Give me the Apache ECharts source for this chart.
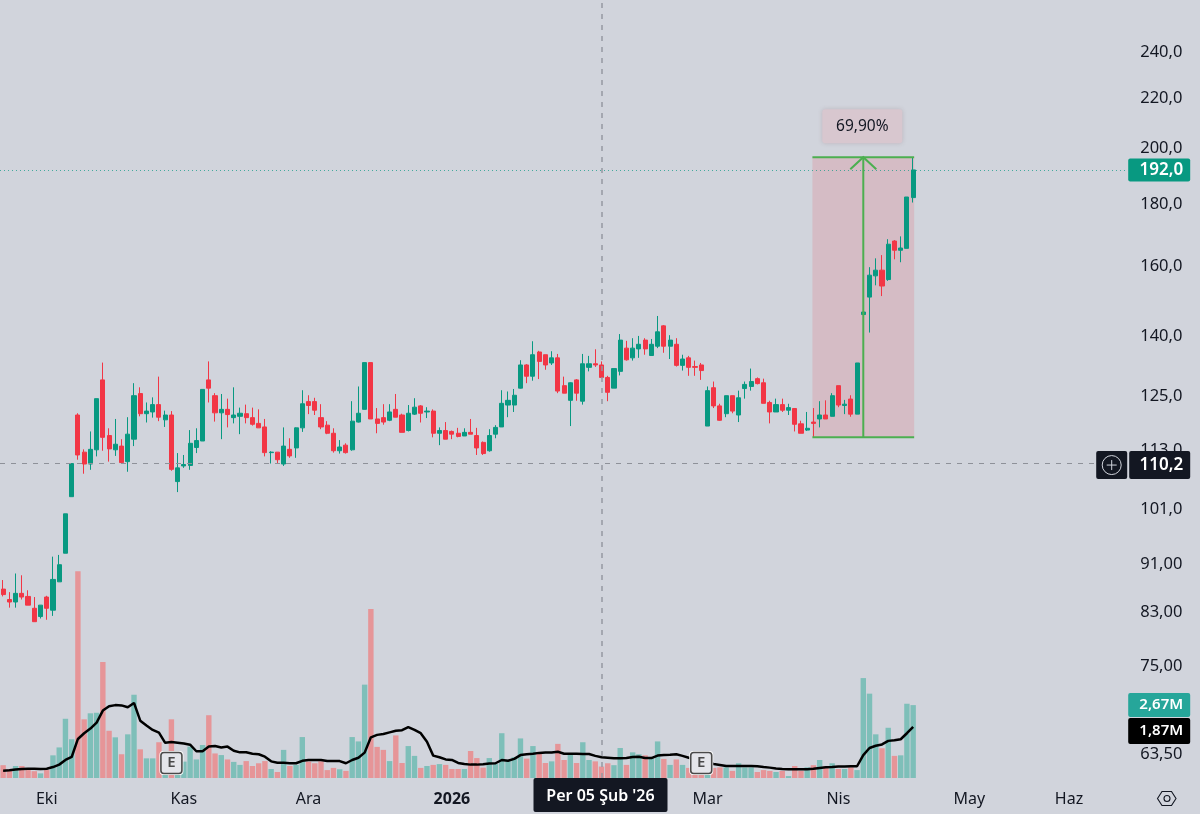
<!DOCTYPE html>
<html><head><meta charset="utf-8">
<style>html,body{margin:0;padding:0;background:#d1d4dc}#c{width:1200px;height:814px}</style>
<script src="https://cdn.jsdelivr.net/npm/echarts@6/dist/echarts.min.js"></script>
</head><body><div id="c"></div>
<script>
// [open, close, low, high]
const ohlc = [
[86.8,85.9,85.6,88.3],[85.1,84.7,83.8,86.3],[84.7,86.1,83.8,89.4],[86.1,85.5,85.1,89.1],[85.6,84.2,84.2,86.6],
[83.7,81.6,81.6,85.5],[82.4,84.2,82.1,84.2],[85.5,83.7,81.9,85.7],[83.4,88.4,82.5,92.3],[88,90.9,88,92.6],
[92.9,100.1,92.9,100.1],[103.4,110.1,103.4,110.1],[120.7,111.9,110.9,121.1],[112.5,110,108,113.1],[110,113.1,108.8,117],
[113,124.5,111.6,124.5],[129,115.7,112.8,133.3],[116.1,113.2,110.5,117.7],[113,114.2,111.7,119.8],[113.8,110.3,110.2,115.3],
[110.5,116.4,108.4,120.2],[115.3,125.2,113.8,128.2],[125.7,121,120.4,127.2],[121,121.6,119,123.6],[121.4,123.1,120.1,124.8],
[123.1,120.2,119.3,129.8],[119.6,120.7,118,121.7],[120.7,108.9,108.6,121.6],[106.4,109.2,104.3,112.3],[109.6,109.9,109.2,111.9],
[109.7,114.4,108.8,117.3],[113.5,115,112.3,117.7],[114.9,126.7,114.9,126.7],[129,127,123.6,133.6],[125.2,121.2,119.2,125.8],
[121.2,122,115.3,125.6],[122,120.8,117.9,124.5],[120.1,120.7,118.8,127.2],[120.4,121.1,116.4,122.4],[121,120.1,118.8,123.1],
[120.1,118.6,118.3,122.4],[118.8,117.8,117.8,122],[118,112.4,111.6,119.8],[112.4,112.5,110.1,112.7],[112.5,110.9,110.2,112.5],
[110,113.8,109.6,117.9],[113.1,111.7,111.3,115.5],[113.4,117.8,111.3,117.9],[117.8,123.3,116.9,126.5],[123.8,122.9,120.9,125.3],
[123.8,121.8,120.7,124.7],[120.1,118,117.5,123.2],[118.4,116.6,116.4,119.3],[116.6,112.8,112.4,117.7],[112.8,113.6,112.2,115.1],
[114,112.4,112.2,114.4],[113,119.3,112.8,123.9],[119.1,121.1,119,127.4],[122,133.3,122,133.3],[133.3,119.8,119.8,133.3],
[119.8,118.8,116.6,122.3],[120.1,119.1,118.5,123.2],[119.5,121.4,119.3,123.2],[122,120.2,120.2,125.6],[120.7,116.8,116.8,121],
[117.2,121.1,117,123],[120.9,122.5,120.7,124.6],[122.8,121.1,119,123],[121.4,121.6,120,122.5],[121.6,116.6,115.7,122],
[116.6,117.2,114,117.9],[117.2,115.3,115.3,119.1],[117,116.4,115.3,117.2],[116.6,115.9,115.7,117.8],[116,116.8,116,117.7],
[116.8,116.4,116.4,119.8],[116.1,113.4,111.9,117.8],[114.6,112.2,111.9,114.8],[112.8,116.1,112.6,117.5],[116.4,117.9,115.5,118.4],
[118,123.4,118,126.5],[123,124.1,120.2,126.2],[123,125.3,121.4,126.8],[127,132.7,126.9,133.9],[132.7,129.9,128.2,132.9],
[129.9,135.3,128.8,138.8],[136,133.6,129.2,136.3],[135.3,132.7,131.5,135.3],[133.2,134.5,132.7,136.2],[134.5,126.3,125.8,135.5],
[127.6,125.8,125.8,129.8],[124.1,128.3,118.2,128.4],[129,125.8,124,129.2],[123.9,133,123.1,135.5],[132.1,133,131.1,135],
[133,132.7,132.2,136.7],[132.7,129.6,129.4,133.6],[129.6,126,123.9,130],[127,131.8,127,131.8],[131.1,139.1,130.1,140.7],
[137,134,133.8,138.9],[134.5,137,133.8,139.6],[136.8,138,134.5,140.2],[139.1,136.8,135.3,139.6],[135.1,138,135.1,139.4],
[137.5,141.3,137,145.6],[142.9,137.5,135.8,143.1],[137.5,139.1,134.2,140.4],[138,132.6,132.3,139.6],[132.6,134.2,131.3,135.3],
[134.5,132.1,130,135],[132.3,132.1,130,133.8],[132.7,131.3,129,133.2],[118.2,126.4,118.2,127.4],[127.1,122.8,122.3,128.6],
[122.8,119.5,119.4,123.3],[121,125.2,120.2,125.2],[125.2,121.6,121.1,125.2],[120.7,124.7,119.1,126.4],[126.9,127.9,124.5,128.6],
[127.4,128.6,126.4,131.8],[129.3,128.1,127.9,129.6],[128.3,123.4,123.4,129.3],[123.6,121.4,118.8,124],[121.4,123.1,121.4,124.5],
[123.1,121.8,121.4,124.5],[121.8,122.4,120.7,123.3],[122.2,118.6,117,122.3],[118.7,116.6,116.6,119.4],[117.3,117.7,117.1,121.4],
[119.1,118.8,115.7,122.3],[119.8,120.7,117.9,123.9],[120.7,119.8,119.8,124.1],[120.4,125.2,120.4,125.8],[127.6,123,122.5,127.6],
[122.9,123.2,120.9,124.2],[124.4,120.9,120.3,125.3],[120.9,133.2,120.9,133.2],[146,146.7,139.4,148],[150.9,157.3,141.1,159.7],
[157.1,158.8,154.3,162.4],[158.8,154.1,151.2,163.4],[156,166.8,155.6,168.4],[167.8,164.9,162.1,168.1],[164.9,165.6,161.2,169.3],
[165.5,182.4,165.5,182.4],[182.2,192,180.5,196.7]
];
const volumes = [
.47,.32,.44,.44,.29,.25,.17,.29,.83,1.12,
2.17,1.42,7.57,2.15,2.37,2.39,4.25,1.73,1.49,.87,
1.60,3.05,1.05,.72,.72,1.31,.51,2.15,.92,.60,
1.15,.68,1.21,2.30,.90,.84,.68,.59,.48,.62,
.44,.54,.62,.33,.22,1.03,.44,.48,1.50,.60,
.54,.61,.29,.37,.32,.26,1.50,1.34,3.42,6.19,
1.14,1.03,.62,1.56,.55,1.17,.81,.37,.44,.48,
.51,.48,.33,.33,.33,.99,.73,.38,.73,.51,
1.64,.62,.76,1.45,.71,1.17,.95,.55,.61,1.25,
.66,.90,.55,1.31,.66,.61,.42,.54,.47,1.10,
.48,.94,.87,.83,.72,1.34,.70,.48,.68,.48,
.37,.22,.18,.37,.37,.39,.39,.26,.54,.39,
.39,.22,.29,.26,.22,.26,.07,.44,.26,.39,
.47,.66,.43,.54,.33,.33,.39,.29,3.66,3.09,
1.60,1.09,1.84,.81,.83,2.72,2.67
];
const volumeMA = [
.27,.28,.31,.33,.34,.34,.33,.34,.40,.49,
.66,.77,1.43,1.64,1.81,2.03,2.47,2.63,2.67,2.66,
2.59,2.75,2.10,1.92,1.76,1.66,1.29,1.32,1.29,1.26,
1.22,.98,.98,1.15,1.17,1.12,1.15,1.00,.94,.94,
.89,.87,.78,.61,.56,.56,.54,.54,.63,.66,
.66,.66,.62,.62,.62,.54,.66,.74,.93,1.49,
1.58,1.61,1.67,1.73,1.75,1.86,1.76,1.64,1.33,.82,
.76,.68,.66,.55,.51,.49,.49,.50,.53,.54,
.66,.63,.70,.84,.87,.89,.92,.93,.93,.96,
.89,.89,.89,.88,.88,.81,.76,.74,.72,.72,
.73,.77,.78,.73,.73,.82,.84,.85,.87,.81,
.74,.68,.62,.56,.51,.48,.44,.44,.44,.44,
.44,.43,.40,.38,.35,.33,.32,.32,.32,.32,
.34,.37,.39,.40,.42,.42,.43,.43,.84,1.10,
1.18,1.23,1.36,1.38,1.42,1.64,1.87
];
const barSlots = 181;
const categories = Array.from({length: barSlots}, (_, i) => String(i));
const monthIndex = [7, 29, 49, 72, 113, 134, 155, 171];
const monthLabels = ['Eki', 'Kas', 'Ara', '2026', 'Mar', 'Nis', 'May', 'Haz'];
const priceTicks = [240, 220, 200, 180, 160, 140, 125, 113, 101, 91, 83, 75, 63.5];
const priceTickLabels = ['240,0','220,0','200,0','180,0','160,0','140,0','125,0','113,0','101,0','91,00','83,00','75,00','63,50'];
const lastPrice = 192, lastPriceLabel = '192,0';
const crossPrice = 110.2, crossPriceLabel = '110,2';
const crossIndex = 96, crossDateLabel = "Per 05 Şub '26";
const lastVolume = 2.67, lastVolumeLabel = '2,67M';
const lastMA = 1.87, lastMALabel = '1,87M';
const earningsIndex = [27, 112];
const measureStart = 130, measureEnd = 146, measureLow = 115.7, measureHigh = 196.7, measureLabel = '69,90%';

const FONT = '"Noto Sans", sans-serif';
const INK = '#131722', UP = '#089981', DOWN = '#f23645';
const chart = echarts.init(document.getElementById('c'), null, {renderer: 'canvas'});

function measureFill(params, api) {
  const a = api.coord([measureStart, measureHigh]), b = api.coord([measureEnd, measureLow]);
  return {type: 'rect', shape: {x: a[0] - 1, y: a[1], width: b[0] - a[0] + 2, height: b[1] - a[1]},
    style: {fill: 'rgba(242,54,69,0.15)'}};
}
function measureLines(params, api) {
  const a = api.coord([measureStart, measureHigh]), b = api.coord([measureEnd, measureLow]);
  const mx = (a[0] + b[0]) / 2, ls = {stroke: '#4caf50', lineWidth: 2, fill: 'none'};
  return {type: 'group', children: [
    {type: 'line', shape: {x1: a[0] - 1, y1: a[1], x2: b[0] + 1, y2: a[1]}, style: ls},
    {type: 'line', shape: {x1: a[0] - 1, y1: b[1], x2: b[0] + 1, y2: b[1]}, style: ls},
    {type: 'line', shape: {x1: mx, y1: b[1], x2: mx, y2: a[1]}, style: ls},
    {type: 'polyline', shape: {points: [[mx - 13, a[1] + 12], [mx, a[1]], [mx + 13, a[1] + 12]]}, style: ls},
    {type: 'rect', shape: {x: mx - 41, y: a[1] - 48, width: 80, height: 34, r: 3},
     style: {fill: '#d8c7cf', shadowBlur: 4, shadowColor: 'rgba(120,90,100,0.25)'}},
    {type: 'text', style: {x: mx - 1, y: a[1] - 31, text: measureLabel, align: 'center', verticalAlign: 'middle',
      font: '15.5px ' + FONT, fill: INK}}
  ]};
}
function badge(x, yc, w, h, text, fill, size) {
  return [
    {type: 'rect', shape: {x: x, y: yc - h / 2, width: w, height: h, r: 2}, style: {fill: fill}},
    {type: 'text', style: {x: x + w - 7, y: yc, text: text, align: 'right', verticalAlign: 'middle',
      font: '600 ' + (size || 17) + 'px ' + FONT, fill: '#fff'}}
  ];
}
function priceBadges(params, api) {
  const right = params.coordSys.x + params.coordSys.width;
  const yLast = api.coord([0, lastPrice])[1], yCross = api.coord([0, crossPrice])[1];
  const plusX = right - 32, py = yCross + 2;
  return {type: 'group', children: [
    ...badge(right, yLast, 62, 23, lastPriceLabel, UP),
    {type: 'rect', shape: {x: plusX, y: py - 14, width: 31, height: 28, r: 2}, style: {fill: INK}},
    {type: 'circle', shape: {cx: plusX + 15.5, cy: py, r: 9.5}, style: {fill: 'none', stroke: '#d1d4dc', lineWidth: 1}},
    {type: 'line', shape: {x1: plusX + 10.5, y1: py, x2: plusX + 20.5, y2: py}, style: {stroke: '#d1d4dc', lineWidth: 1}},
    {type: 'line', shape: {x1: plusX + 15.5, y1: py - 5, x2: plusX + 15.5, y2: py + 5}, style: {stroke: '#d1d4dc', lineWidth: 1}},
    ...badge(right + 1, py, 61, 28, crossPriceLabel, INK)
  ]};
}
function volumeBadges(params, api) {
  const right = params.coordSys.x + params.coordSys.width;
  const y1 = api.coord([0, lastVolume])[1], y2 = Math.max(api.coord([0, lastMA])[1], y1 + 26);
  return {type: 'group', children: [
    ...badge(right, y1, 62, 24, lastVolumeLabel, '#26a69a', 15),
    ...badge(right, y2, 62, 26, lastMALabel, '#000', 15)
  ]};
}
function dateBadge(params, api) {
  const x = api.coord([crossIndex, 0])[0], top = params.coordSys.y + params.coordSys.height;
  return {type: 'group', children: [
    {type: 'rect', shape: {x: x - 68, y: top, width: 134, height: 34, r: 2}, style: {fill: INK}},
    {type: 'text', style: {x: x - 1, y: top + 18, text: crossDateLabel, align: 'center', verticalAlign: 'middle',
      font: '600 16px ' + FONT, fill: '#fff'}}
  ]};
}
function earningsMark(params, api) {
  const x = api.coord([api.value(0), 0])[0], bottom = params.coordSys.y + params.coordSys.height;
  const yc = bottom - 15;
  return {type: 'group', children: [
    {type: 'rect', shape: {x: x - 12, y: yc - 12, width: 24, height: 24, r: 4}, style: {fill: '#fff'}},
    {type: 'rect', shape: {x: x - 10.5, y: yc - 10.5, width: 21, height: 21, r: 3}, style: {fill: '#e4e5ea', stroke: '#4a4a4a', lineWidth: 1.6}},
    {type: 'text', style: {x: x, y: yc, text: 'E', align: 'center', verticalAlign: 'middle', font: '600 15px ' + FONT, fill: '#4a4a4a'}}
  ]};
}

chart.setOption({
  animation: false,
  backgroundColor: '#d1d4dc',
  grid: {left: -0.8, top: 0, width: 1129, height: 778},
  xAxis: {
    type: 'category', data: categories, boundaryGap: true,
    axisLine: {show: false}, axisTick: {show: false}, splitLine: {show: false},
    axisLabel: {
      interval: 0, hideOverlap: false, margin: 13, color: INK, fontFamily: FONT, fontSize: 16,
      formatter: (v, i) => {
        const k = monthIndex.indexOf(i);
        if (k < 0) return '';
        return monthLabels[k] === '2026' ? '{b|2026}' : monthLabels[k];
      },
      rich: {b: {fontFamily: FONT, fontSize: 16, fontWeight: 'bold', color: INK}}
    }
  },
  yAxis: [
    {
      type: 'log', position: 'right', min: 60.69, max: 264.9,
      axisLine: {show: false}, axisTick: {show: false}, splitLine: {show: false}, minorTick: {show: false},
      axisLabel: {
        customValues: priceTicks, margin: 12, align: 'left', color: INK, fontFamily: FONT, fontSize: 16.5,
        showMinLabel: true, showMaxLabel: true,
        formatter: v => {
          let best = 0, d = Infinity;
          priceTicks.forEach((t, i) => { const e = Math.abs(t - v); if (e < d) { d = e; best = i; } });
          return priceTickLabels[best];
        }
      }
    },
    {type: 'value', min: 0, max: 28.5, show: false, splitLine: {show: false}}
  ],
  series: [
    {type: 'custom', name: 'measureFill', coordinateSystem: 'cartesian2d', yAxisIndex: 0, z: 1, silent: true,
     data: [[measureStart, measureLow]], renderItem: measureFill, clip: false},
    {type: 'bar', name: 'Volume', yAxisIndex: 1, barWidth: 5.4, z: 2, silent: true,
     data: volumes.map((v, i) => ({value: v, itemStyle: {color: ohlc[i][1] >= ohlc[i][0] ? '#7ebfb9' : '#e69598'}}))},
    {type: 'line', name: 'Volume MA', yAxisIndex: 1, data: volumeMA, showSymbol: false, symbol: 'none', z: 3, silent: true,
     lineStyle: {color: '#000', width: 2.5}},
    {type: 'candlestick', name: 'Price', yAxisIndex: 0, barWidth: 4.6, z: 4, silent: true, data: ohlc,
     itemStyle: {color: UP, color0: DOWN, borderColor: UP, borderColor0: DOWN, borderWidth: 1},
     markLine: {
       silent: true, symbol: 'none', animation: false, label: {show: false},
       data: [
         {yAxis: lastPrice, lineStyle: {color: UP, type: [1, 3], width: 1, opacity: 0.7}},
         {yAxis: crossPrice, lineStyle: {color: '#8e9199', type: [5, 6], width: 1}},
         {xAxis: crossIndex, lineStyle: {color: '#9598a1', type: [5, 6], width: 1.5}}
       ]
     }},
    {type: 'custom', name: 'measureLines', yAxisIndex: 0, z: 5, silent: true, clip: false,
     data: [[measureStart, measureLow]], renderItem: measureLines},
    {type: 'custom', name: 'earnings', yAxisIndex: 1, z: 6, silent: true, clip: false,
     data: earningsIndex.map(i => [i, 0]), renderItem: earningsMark},
    {type: 'custom', name: 'priceBadges', yAxisIndex: 0, z: 7, silent: true, clip: false,
     data: [[0, lastPrice]], renderItem: priceBadges},
    {type: 'custom', name: 'volumeBadges', yAxisIndex: 1, z: 7, silent: true, clip: false,
     data: [[0, lastVolume]], renderItem: volumeBadges},
    {type: 'custom', name: 'dateBadge', yAxisIndex: 1, z: 7, silent: true, clip: false,
     data: [[crossIndex, 0]], renderItem: dateBadge}
  ],
  graphic: [
    {type: 'polygon', left: 1155, top: 789, shape: {points: [[0, 7], [4.5, 0], [14, 0], [18.5, 7], [14, 14], [4.5, 14]]},
     style: {fill: 'none', stroke: INK, lineWidth: 1.1}},
    {type: 'circle', left: 1161.5, top: 793, shape: {r: 3}, style: {fill: 'none', stroke: INK, lineWidth: 1.1}}
  ]
});
</script></body></html>
